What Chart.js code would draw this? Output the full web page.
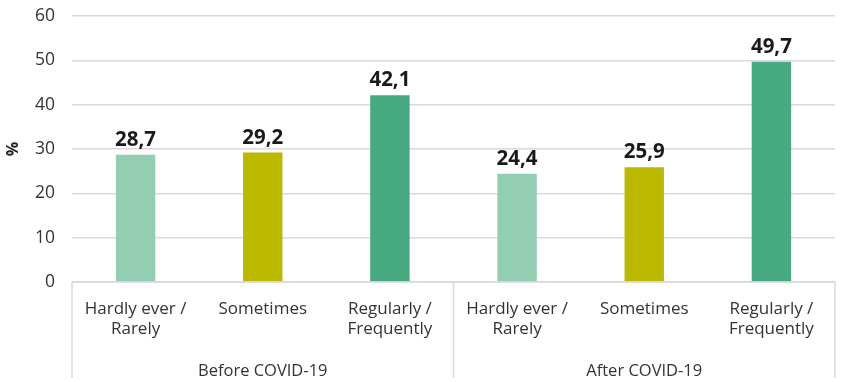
<!DOCTYPE html>
<html>
<head>
<meta charset="utf-8">
<script src="https://cdn.jsdelivr.net/npm/chart.js@4/dist/chart.umd.min.js"></script>
<style>
  html, body { margin: 0; padding: 0; background: #ffffff; }
  #wrap { width: 846px; height: 382px; position: relative; }
</style>
</head>
<body>
<div id="wrap"><canvas id="chart"></canvas></div>
<script>
// Frequency categories, repeated for each period
const categories = [
  ["Hardly ever /", "Rarely"], "Sometimes", ["Regularly /", "Frequently"],
  ["Hardly ever /", "Rarely"], "Sometimes", ["Regularly /", "Frequently"]
];
const periods = ["Before COVID-19", "After COVID-19"];
const shares = [28.7, 29.2, 42.1, 24.4, 25.9, 49.7];
const yTicks = [0, 10, 20, 30, 40, 50, 60];
const barColors = ["#93ceb3", "#bab900", "#47a980", "#93ceb3", "#bab900", "#47a980"];

const FONT = "'Open Sans', 'Noto Sans', sans-serif";
const perGroup = categories.length / periods.length;

const fmt = v => v.toFixed(1).replace(".", ",");

// Value labels above each bar
const valueLabels = {
  id: "valueLabels",
  afterDatasetsDraw(chart) {
    const ctx = chart.ctx;
    const meta = chart.getDatasetMeta(0);
    ctx.save();
    ctx.font = "bold 20.5px " + FONT;
    ctx.fillStyle = "#1a1a1a";
    ctx.textAlign = "center";
    ctx.textBaseline = "alphabetic";
    meta.data.forEach((bar, i) => {
      ctx.fillText(fmt(shares[i]), bar.x, bar.y - 9);
    });
    ctx.restore();
  }
};

// Group separators and period labels under the category axis
const groupAxis = {
  id: "groupAxis",
  afterDraw(chart) {
    const ctx = chart.ctx;
    const x = chart.scales.x;
    const area = chart.chartArea;
    const half = (x.getPixelForValue(1) - x.getPixelForValue(0)) / 2;
    const bottom = chart.height;
    ctx.save();
    ctx.strokeStyle = "#d9d9d9";
    ctx.lineWidth = 1.5;
    // horizontal base line
    ctx.beginPath();
    ctx.moveTo(x.getPixelForValue(0) - half, area.bottom);
    ctx.lineTo(x.getPixelForValue(categories.length - 1) + half, area.bottom);
    ctx.stroke();
    for (let g = 0; g <= periods.length; g++) {
      const idx = g * perGroup;
      const px = idx < categories.length
        ? x.getPixelForValue(idx) - half
        : x.getPixelForValue(categories.length - 1) + half;
      ctx.beginPath();
      ctx.moveTo(px, area.bottom);
      ctx.lineTo(px, bottom - 4);
      ctx.stroke();
    }
    ctx.font = "16.5px " + FONT;
    ctx.fillStyle = "#333333";
    ctx.textAlign = "center";
    ctx.textBaseline = "middle";
    periods.forEach((p, g) => {
      const a = x.getPixelForValue(g * perGroup);
      const b = x.getPixelForValue(g * perGroup + perGroup - 1);
      ctx.fillText(p, (a + b) / 2, bottom - 11);
    });
    ctx.restore();
  }
};

new Chart(document.getElementById("chart"), {
  type: "bar",
  data: {
    labels: categories,
    datasets: [{
      data: shares,
      backgroundColor: barColors,
      barPercentage: 0.31,
      categoryPercentage: 1.0
    }]
  },
  options: {
    responsive: true,
    maintainAspectRatio: false,
    animation: false,
    layout: { padding: { top: 16, right: 11, left: 4, bottom: 0 } },
    plugins: {
      legend: { display: false },
      tooltip: { enabled: false }
    },
    scales: {
      x: {
        grid: { display: false },
        border: { display: false },
        ticks: {
          color: "#333333",
          font: { family: FONT, size: 17, lineHeight: 1.2 },
          padding: 9,
          maxRotation: 0,
          autoSkip: false
        },
        afterFit(scale) { scale.height = 100; }
      },
      y: {
        min: 0,
        max: 60,
        afterBuildTicks(scale) { scale.ticks = yTicks.map(v => ({ value: v })); },
        grid: { color: "#d9d9d9", lineWidth: 1.5, drawTicks: false },
        border: { display: false },
        ticks: {
          color: "#333333",
          font: { family: FONT, size: 17.5 },
          padding: 17
        },
        title: {
          display: true,
          text: "%",
          color: "#222222",
          font: { family: FONT, size: 16, weight: "bold" },
          padding: 0
        },
        afterFit(scale) {
          scale.width = 68;
          scale.paddingTop = 0;
          scale.paddingBottom = 0;
        }
      }
    }
  },
  plugins: [valueLabels, groupAxis]
});
</script>
</body>
</html>
